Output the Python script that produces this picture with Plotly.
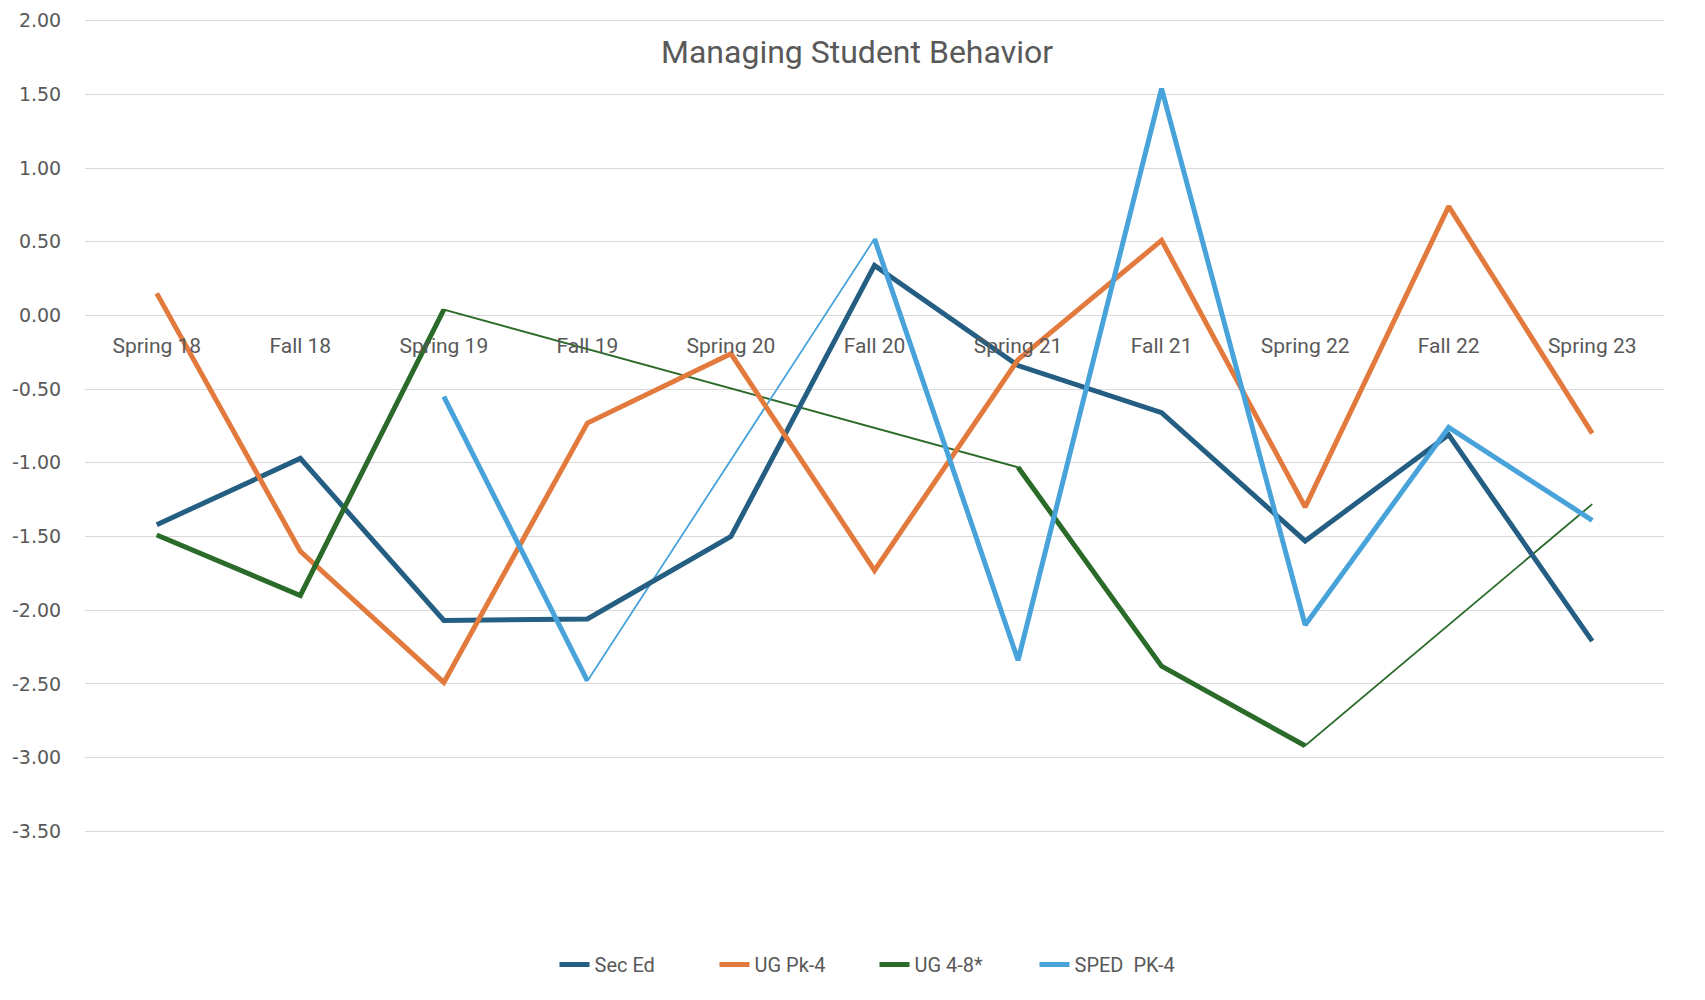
import plotly.graph_objects as go

categories = ["Spring 18", "Fall 18", "Spring 19", "Fall 19", "Spring 20", "Fall 20",
              "Spring 21", "Fall 21", "Spring 22", "Fall 22", "Spring 23"]

sec_ed = [-1.42, -0.97, -2.07, -2.06, -1.50, 0.34, -0.34, -0.66, -1.53, -0.81, -2.21]
ug_pk4 = [0.15, -1.60, -2.49, -0.73, -0.26, -1.73, -0.30, 0.51, -1.30, 0.74, -0.80]
ug_48 = [-1.49, -1.90, 0.04, None, None, None, -1.03, -2.38, -2.92, None, -1.28]
sped_pk4 = [None, None, -0.55, -2.48, None, 0.52, -2.34, 1.54, -2.10, -0.76, -1.39]

series_names = ["Sec Ed", "UG Pk-4", "UG 4-8*", "SPED  PK-4"]
series_values = [sec_ed, ug_pk4, ug_48, sped_pk4]
series_colors = ["#245E82", "#E27A3D", "#2B6B29", "#48A3DA"]

y_tickvals = [2.0, 1.5, 1.0, 0.5, 0.0, -0.5, -1.0, -1.5, -2.0, -2.5, -3.0, -3.5]
y_ticktext = ["2.00", "1.50", "1.00", "0.50", "0.00", "-0.50", "-1.00", "-1.50",
              "-2.00", "-2.50", "-3.00", "-3.50"]

Y_MIN, Y_MAX = -3.5, 2.0
PAD = 0.012

fig = go.Figure()

# thin connectors bridging gaps (drawn first, underneath)
for name, vals, col in zip(series_names, series_values, series_colors):
    if any(v is None for v in vals):
        fig.add_trace(go.Scatter(x=categories, y=vals, mode="lines", connectgaps=True,
                                 line=dict(color=col, width=1.8), showlegend=False,
                                 hoverinfo="skip"))

for name, vals, col in zip(series_names, series_values, series_colors):
    fig.add_trace(go.Scatter(x=categories, y=vals, mode="lines", name=name, connectgaps=False,
                             line=dict(color=col, width=5)))

zero_pos = (0 - (Y_MIN - PAD)) / ((Y_MAX + PAD) - (Y_MIN - PAD))

fig.update_layout(
    width=1697, height=992,
    paper_bgcolor="white", plot_bgcolor="white",
    margin=dict(l=77, r=41, t=11, b=167, autoexpand=False),
    title=dict(text="Managing Student Behavior", x=0.5003, xref="container", xanchor="center",
               y=0.9562, yref="container", yanchor="middle",
               font=dict(family="Roboto", size=32, color="#595959")),
    xaxis=dict(type="category", range=[-0.5, 10.5], anchor="free", position=zero_pos,
               showgrid=False, showline=False, zeroline=False, automargin=False,
               ticks="outside", ticklen=11, tickcolor="rgba(0,0,0,0)",
               tickfont=dict(family="Roboto", size=21, color="#595959")),
    yaxis=dict(range=[Y_MIN - PAD, Y_MAX + PAD], tickvals=y_tickvals, ticktext=y_ticktext,
               showgrid=True, gridcolor="#D9D9D9", gridwidth=1, zeroline=False,
               showline=False, ticks="outside", ticklen=19, tickcolor="rgba(0,0,0,0)",
               automargin=False,
               tickfont=dict(family="DejaVu Sans", size=19, color="#595959")),
    legend=dict(orientation="h", x=0.5, xanchor="center", y=0.0358, yanchor="middle",
                yref="container", font=dict(family="Roboto", size=20, color="#595959"),
                entrywidth=115, entrywidthmode="pixels"),
    showlegend=True,
)

fig.write_html("out.html")
